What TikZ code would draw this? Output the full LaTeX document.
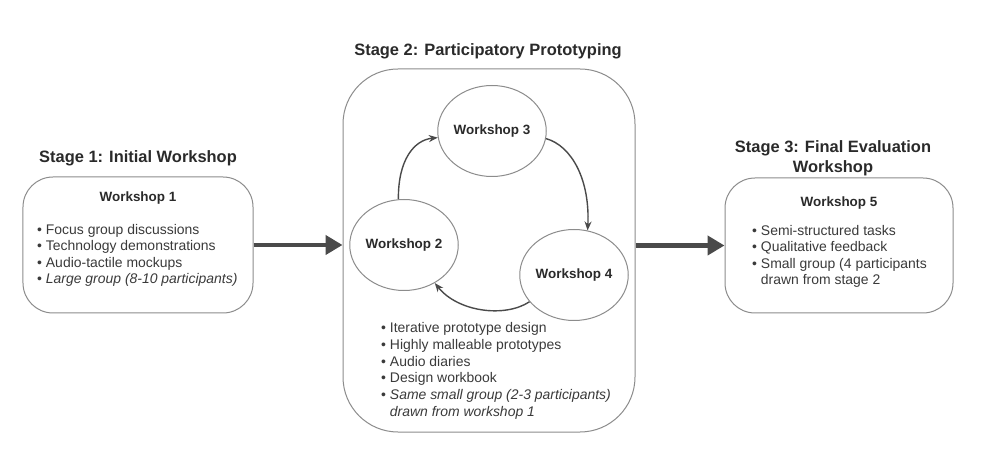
\documentclass[tikz,border=0pt]{standalone}
\usepackage{fontspec}
\setmainfont{Liberation Sans}
\usetikzlibrary{shapes.geometric,arrows.meta}
\definecolor{txt}{HTML}{2A2A2A}
\definecolor{body}{HTML}{3A3A3A}
\definecolor{edge}{HTML}{8C8C8C}
\definecolor{arr}{HTML}{4A4A4A}
\begin{document}
\begin{tikzpicture}[x=1bp,y=-1bp,
  stagebox/.style={draw=edge,line width=1bp,rounded corners=30bp,inner sep=0},
  ws/.style={draw=edge,line width=1bp,ellipse,minimum width=98bp,minimum height=91bp,inner sep=0,font=\fontsize{13.5}{16}\selectfont\bfseries,text=txt},
  title/.style={font=\fontsize{16.5}{20}\selectfont\bfseries,text=txt,align=center,inner sep=0},
  wlabel/.style={font=\fontsize{13.5}{16}\selectfont\bfseries,text=txt,inner sep=0},
  items/.style={font=\fontsize{14}{16.7}\selectfont,text=body,align=left,inner sep=0},
  bigarrow/.style={draw=arr,line width=4.5bp,-{Triangle[length=17bp,width=19bp]}},
  cyc/.style={draw=arr,line width=1.4bp,-{Stealth[length=9bp,width=7bp]}}]
\useasboundingbox[fill=white] (0,0) rectangle (986,457);

% stage boxes
\node[stagebox,minimum width=230bp,minimum height=136bp] (box1) at (138,245) {};
\node[stagebox,rounded corners=55bp,minimum width=292bp,minimum height=363bp] (box2) at (489,250.5) {};
\node[stagebox,minimum width=228bp,minimum height=135bp] (box3) at (839,245.5) {};

% titles
\node[title,anchor=base] (t1) at (138,163) {Stage 1: Initial Workshop};
\node[title,anchor=base] (t2) at (488,56) {Stage 2: Participatory Prototyping};
\node[title] (t3) at (833,158) {Stage 3: Final Evaluation\\Workshop};

% stage 1 content (base anchor = baseline of last line)
\node[wlabel,anchor=base] (wl1) at (138,202) {Workshop 1};
\node[items,anchor=base west] (l1) at (37,284) {\textbullet\ Focus group discussions\\
\textbullet\ Technology demonstrations\\
\textbullet\ Audio-tactile mockups\\
\textbullet\ \textit{Large group (8-10 participants)}};

% stage 2 content
\node[ws] (w3) at (492,131) {Workshop 3};
\node[ws] (w2) at (404,245) {Workshop 2};
\node[ws] (w4) at (574,275) {Workshop 4};
\draw[cyc] (w2.97) .. controls (398,160) and (414,140) .. (w3.187);
\draw[cyc] (w3.-8) .. controls (572,146) and (590,180) .. (w4.73);
\draw[cyc] (w4.211) .. controls (505,318) and (458,312) .. (w2.-51);
\node[items,anchor=base west] (l2) at (381,416) {\textbullet\ Iterative prototype design\\
\textbullet\ Highly malleable prototypes\\
\textbullet\ Audio diaries\\
\textbullet\ Design workbook\\
\textbullet\ \textit{Same small group (2-3 participants)}\\
\phantom{\textbullet\ }\textit{drawn from workshop 1}};

% stage 3 content
\node[wlabel,anchor=base] (wl5) at (839,207) {Workshop 5};
\node[items,anchor=base west] (l3) at (752,285) {\textbullet\ Semi-structured tasks\\
\textbullet\ Qualitative feedback\\
\textbullet\ Small group (4 participants\\
\phantom{\textbullet\ }drawn from stage 2};

% connectors between stages
\draw[bigarrow] (box1.east) -- (box1.east -| box2.west);
\draw[bigarrow] (box3.west -| box2.east) -- (box3.west);
\end{tikzpicture}
\end{document}
